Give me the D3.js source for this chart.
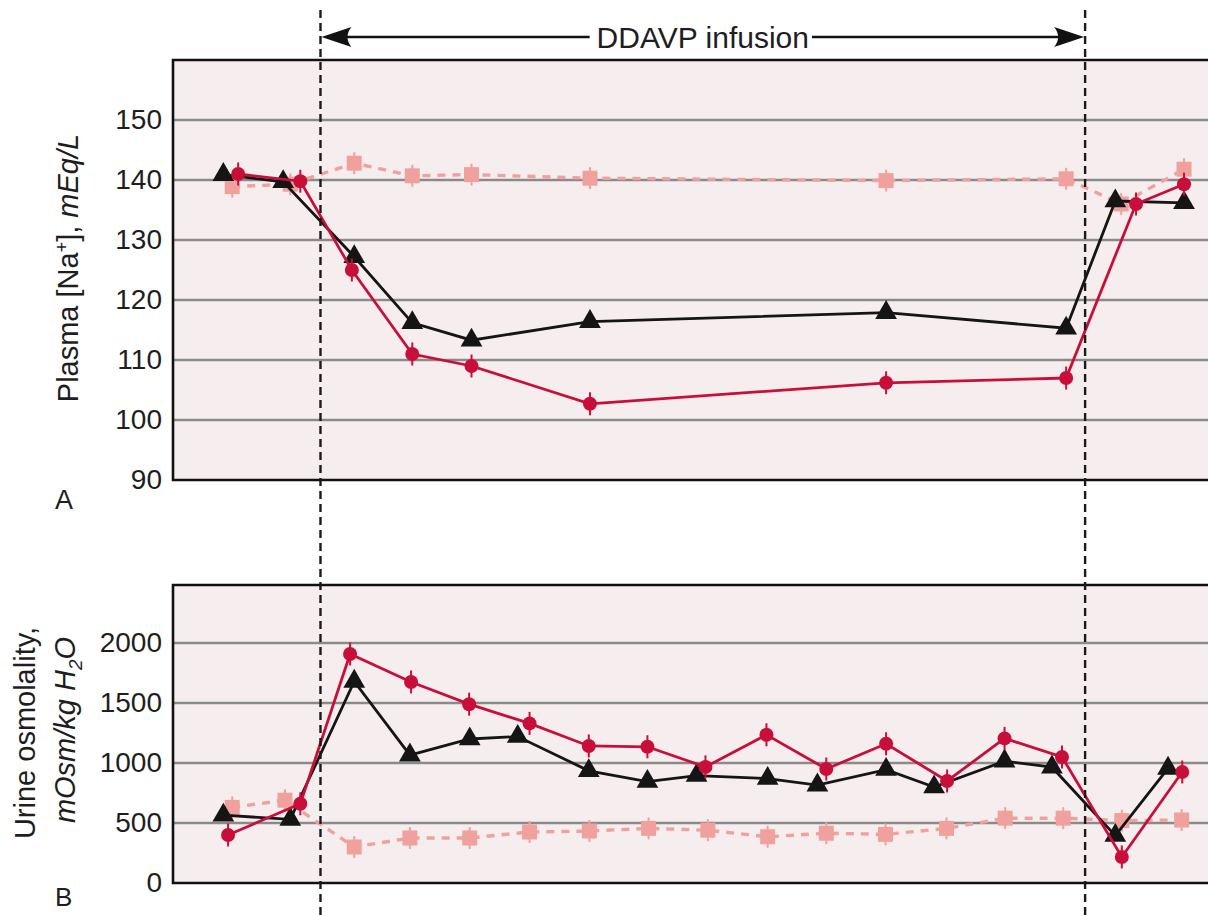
<!DOCTYPE html>
<html>
<head>
<meta charset="utf-8">
<script src="https://cdn.jsdelivr.net/npm/d3@7"></script>
<style>
  body { margin: 0; background: #ffffff; }
  svg { display: block; }
  text { font-family: "Liberation Sans", Arial, Helvetica, sans-serif; fill: #1e1e1e; }
</style>
</head>
<body>
<svg id="chart" width="1208" height="915"></svg>
<script>
// ---- Data: days relative to the start of the DDAVP infusion ----
// Panel A: plasma [Na+] (mEq/L)
const plasmaTriDays  = [-2.19, -1.18, 0.02, 1, 2, 4, 9, 12.04, 12.87, 14.03];
const plasmaTriNa    = [140.9, 139.7, 127.2, 116.2, 113.3, 116.4, 117.9, 115.3, 136.5, 136.2];
const plasmaCircDays = [-1.94, -0.89, -0.02, 1, 2, 4, 9, 12.04, 13.22, 14.03];
const plasmaCircNa   = [141.0, 139.8, 125.0, 111.0, 109.0, 102.7, 106.2, 107.0, 136.0, 139.3];
const plasmaSqDays   = [-2.04, -1.06, 0.02, 1, 2, 4, 9, 12.04, 12.97, 14.03];
const plasmaSqNa     = [138.9, 139.3, 142.8, 140.7, 140.9, 140.3, 139.9, 140.2, 136.0, 141.8];

// Panel B: urine osmolality (mOsm/kg H2O)
const urineTriDays  = [-2.19, -1.06, 0.02, 0.96, 1.97, 2.78, 3.98, 4.97, 5.8, 7.0, 7.84, 9.0, 9.81, 11.0, 11.8, 12.87, 13.76];
const urineTriOsm   = [565, 530, 1680, 1065, 1200, 1220, 935, 845, 895, 870, 815, 945, 800, 1015, 965, 395, 955];
const urineCircDays = [-2.11, -0.89, -0.05, 0.98, 1.96, 2.98, 3.98, 4.97, 5.95, 6.98, 7.99, 9.0, 10.03, 11.0, 11.97, 12.98, 14.0];
const urineCircOsm  = [400, 660, 1908, 1675, 1490, 1330, 1142, 1135, 967, 1235, 950, 1160, 850, 1205, 1050, 217, 925];
const urineSqDays   = [-2.04, -1.15, 0.02, 0.96, 1.97, 2.98, 3.99, 4.99, 5.99, 7.0, 7.99, 8.99, 10.02, 11.01, 11.99, 12.98, 13.99];
const urineSqOsm    = [630, 690, 300, 375, 375, 425, 433, 455, 440, 385, 415, 405, 455, 540, 540, 520, 525];

// Axis ticks and infusion window
const plasmaTicks  = [90, 100, 110, 120, 130, 140, 150];
const urineTicks   = [0, 500, 1000, 1500, 2000];
const infusionDays = [-0.55, 12.36];
const infusionLabel = "DDAVP infusion";

// ---- Layout ----
const svg = d3.select("#chart");
const W = 1208, H = 915;
const left = 173, right = 1216;
const panelA = { top: 60, bottom: 480, domain: [90, 160] };
const panelB = { top: 585, bottom: 883, domain: [0, 2483] };

const COL_TRI = "#151515";
const COL_CIRC = "#c80f3a";
const COL_SQ = "#f0a19d";
const BG = "#f6eeee";

const x = d3.scaleLinear().domain([-3.04, 14.57]).range([left, right]);

function zip(xs, ys) { return xs.map((d, i) => ({ t: d, v: ys[i] })); }

function drawPanel(p, ticks, series) {
  const y = d3.scaleLinear().domain(p.domain).range([p.bottom, p.top]);
  const g = svg.append("g");

  g.append("rect")
    .attr("x", left).attr("y", p.top)
    .attr("width", right - left).attr("height", p.bottom - p.top)
    .attr("fill", BG);

  // horizontal grid lines
  g.append("g").selectAll("line")
    .data(ticks.filter(t => t > p.domain[0]))
    .join("line")
    .attr("x1", left).attr("x2", right)
    .attr("y1", d => y(d)).attr("y2", d => y(d))
    .attr("stroke", "#8a8a8a").attr("stroke-width", 2.4);

  // frame: top, left and bottom edges
  g.append("path")
    .attr("d", `M${right},${p.top}H${left}V${p.bottom}H${right}`)
    .attr("fill", "none").attr("stroke", "#111").attr("stroke-width", 2.6);

  // y axis labels
  const ax = g.append("g")
    .attr("transform", `translate(${left},0)`)
    .call(d3.axisLeft(y).tickValues(ticks).tickFormat(d3.format("d"))
      .tickSize(0).tickPadding(11));
  ax.select(".domain").remove();
  ax.selectAll("text")
    .style("font-family", '"Liberation Sans", Arial, sans-serif')
    .style("font-size", "28px").attr("fill", "#1e1e1e");

  const line = d3.line().x(d => x(d.t)).y(d => y(d.v));

  // squares (dashed)
  const sq = zip(series.sqDays, series.sqVals);
  g.append("path").datum(sq).attr("d", line)
    .attr("fill", "none").attr("stroke", COL_SQ)
    .attr("stroke-width", 3.4).attr("stroke-dasharray", "8,7");
  const sqG = g.append("g").selectAll("g").data(sq).join("g")
    .attr("transform", d => `translate(${x(d.t)},${y(d.v)})`);
  sqG.append("line").attr("y1", -11).attr("y2", 11)
    .attr("stroke", COL_SQ).attr("stroke-width", 2);
  sqG.append("rect").attr("x", -7.5).attr("y", -7.5)
    .attr("width", 15).attr("height", 15).attr("fill", COL_SQ);

  // triangles
  const tri = zip(series.triDays, series.triVals);
  g.append("path").datum(tri).attr("d", line)
    .attr("fill", "none").attr("stroke", COL_TRI).attr("stroke-width", 2.8);
  g.append("g").selectAll("path").data(tri).join("path")
    .attr("transform", d => `translate(${x(d.t)},${y(d.v)})`)
    .attr("d", d3.symbol(d3.symbolTriangle, 205))
    .attr("fill", COL_TRI);

  // circles
  const circ = zip(series.circDays, series.circVals);
  g.append("path").datum(circ).attr("d", line)
    .attr("fill", "none").attr("stroke", COL_CIRC).attr("stroke-width", 2.8);
  const cG = g.append("g").selectAll("g").data(circ).join("g")
    .attr("transform", d => `translate(${x(d.t)},${y(d.v)})`);
  cG.append("line").attr("y1", -11.5).attr("y2", 11.5)
    .attr("stroke", COL_CIRC).attr("stroke-width", 2);
  cG.append("circle").attr("r", 7).attr("fill", COL_CIRC);

  return y;
}

drawPanel(panelA, plasmaTicks, {
  triDays: plasmaTriDays, triVals: plasmaTriNa,
  circDays: plasmaCircDays, circVals: plasmaCircNa,
  sqDays: plasmaSqDays, sqVals: plasmaSqNa
});
drawPanel(panelB, urineTicks, {
  triDays: urineTriDays, triVals: urineTriOsm,
  circDays: urineCircDays, circVals: urineCircOsm,
  sqDays: urineSqDays, sqVals: urineSqOsm
});

// infusion start / end markers
svg.append("g").selectAll("line").data(infusionDays).join("line")
  .attr("x1", d => x(d)).attr("x2", d => x(d))
  .attr("y1", 10).attr("y2", H)
  .attr("stroke", "#1a1a1a").attr("stroke-width", 2.4)
  .attr("stroke-dasharray", "8,5");

// infusion arrow with label
const arrowY = 37;
const x0 = x(infusionDays[0]) + 1, x1 = x(infusionDays[1]) - 1;
const mid = (x0 + x1) / 2;
const label = svg.append("text")
  .attr("x", mid).attr("y", 48)
  .attr("text-anchor", "middle")
  .style("font-size", "30px")
  .text(infusionLabel);
const lw = label.node().getComputedTextLength();
svg.append("line").attr("x1", x0 + 20).attr("x2", mid - lw / 2 - 7)
  .attr("y1", arrowY).attr("y2", arrowY)
  .attr("stroke", "#111").attr("stroke-width", 2.5);
svg.append("line").attr("x1", mid + lw / 2 + 3).attr("x2", x1 - 20)
  .attr("y1", arrowY).attr("y2", arrowY)
  .attr("stroke", "#111").attr("stroke-width", 2.5);
const head = "M0,0 L-30,-10 Q-22,0 -30,10 Z";
svg.append("path").attr("d", head)
  .attr("transform", `translate(${x0},${arrowY}) scale(-1,1)`).attr("fill", "#111");
svg.append("path").attr("d", head)
  .attr("transform", `translate(${x1},${arrowY})`).attr("fill", "#111");

// axis titles
const tA = svg.append("text")
  .attr("transform", "translate(78,268) rotate(-90)")
  .attr("text-anchor", "middle").style("font-size", "29px");
tA.append("tspan").text("Plasma [Na");
tA.append("tspan").attr("dy", -10).style("font-size", "18px").text("+");
tA.append("tspan").attr("dy", 10).text("], ");
tA.append("tspan").style("font-style", "italic").text("mEq/L");

svg.append("text")
  .attr("transform", "translate(35,733) rotate(-90)")
  .attr("text-anchor", "middle").style("font-size", "29px")
  .text("Urine osmolality,");
const tB = svg.append("text")
  .attr("transform", "translate(75,730) rotate(-90)")
  .attr("text-anchor", "middle").style("font-size", "29px")
  .style("font-style", "italic");
tB.append("tspan").text("mOsm/kg H");
tB.append("tspan").attr("dy", 7).style("font-size", "19px").text("2");
tB.append("tspan").attr("dy", -7).text("O");

// panel letters
svg.append("text").attr("x", 55).attr("y", 509).style("font-size", "27px").text("A");
svg.append("text").attr("x", 55).attr("y", 906).style("font-size", "26px").text("B");
</script>
</body>
</html>
